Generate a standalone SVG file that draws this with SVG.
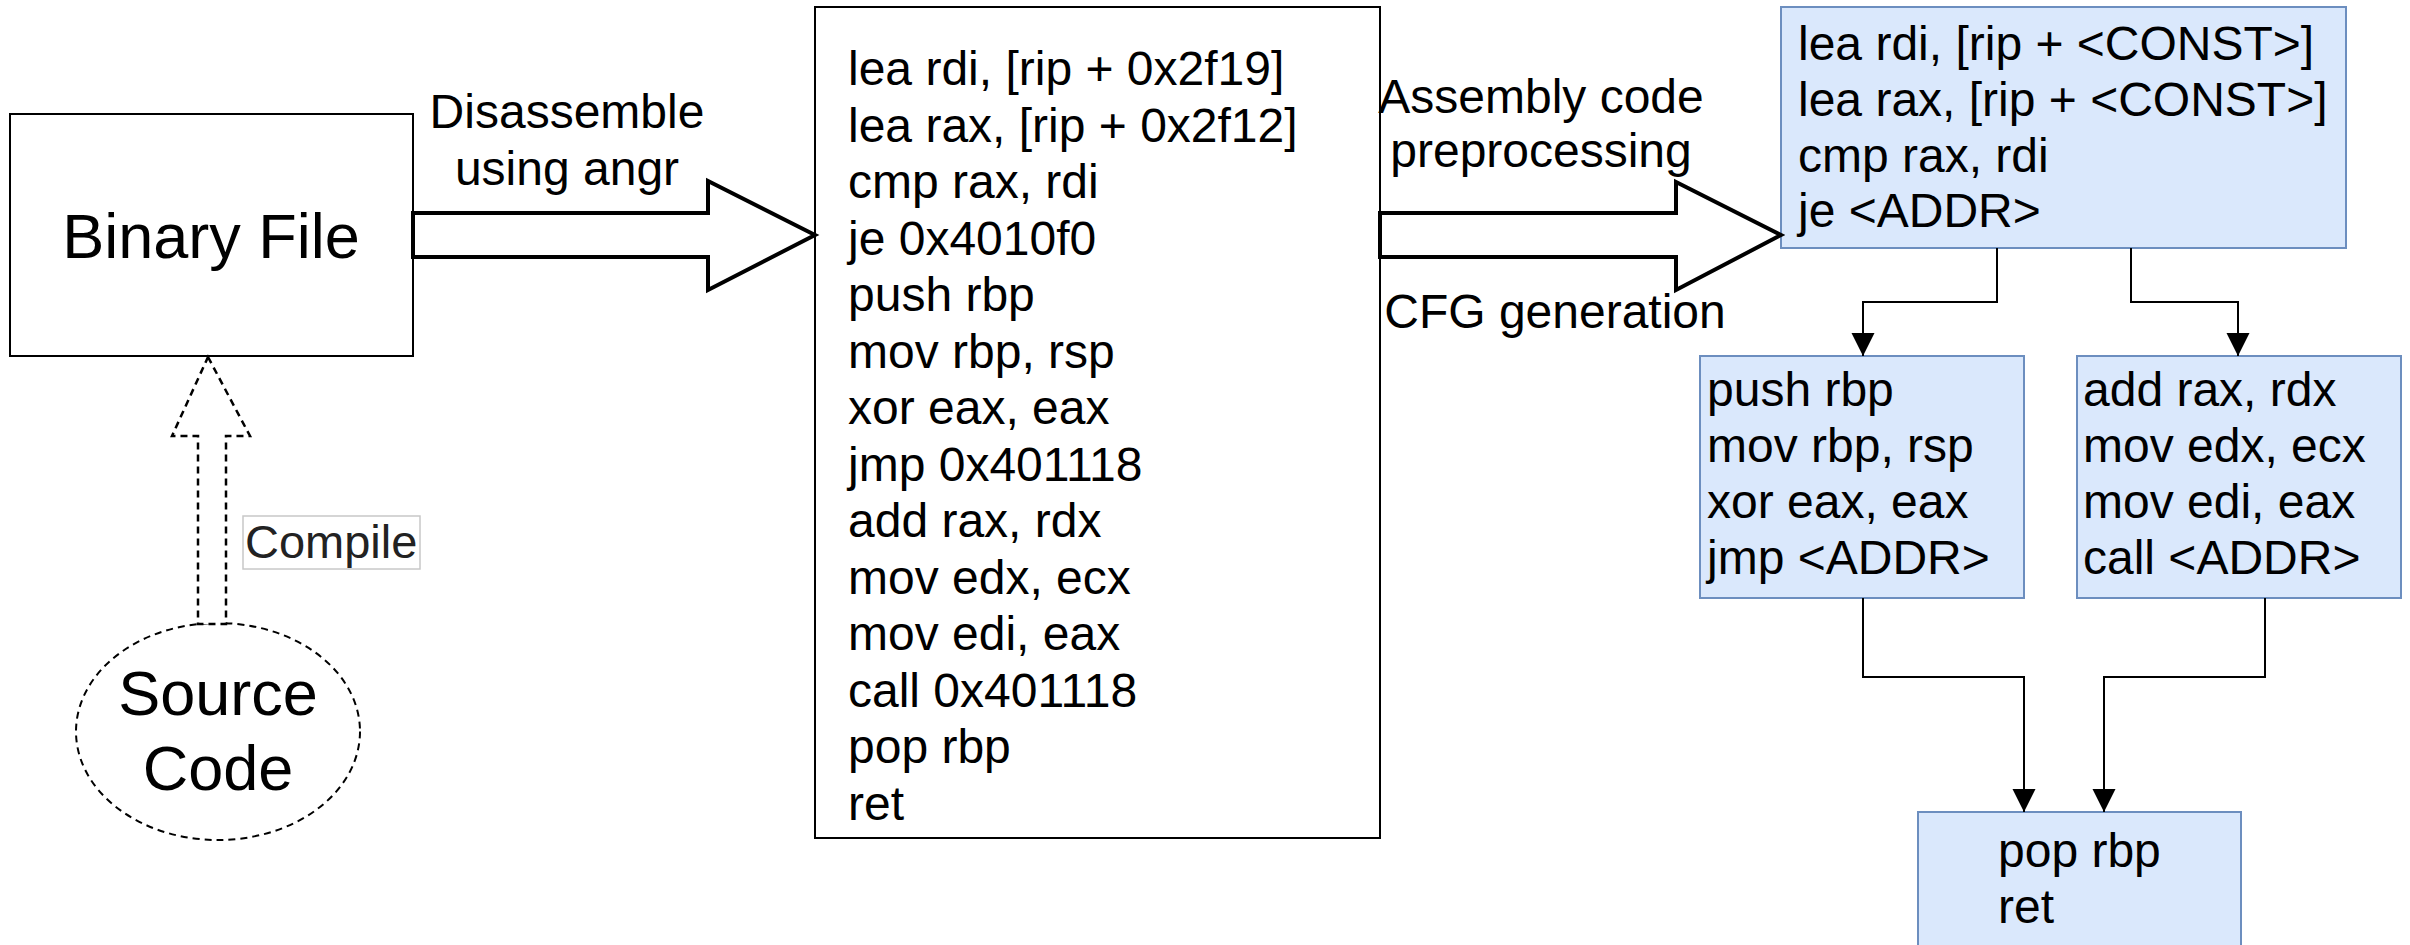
<svg xmlns="http://www.w3.org/2000/svg" width="2410" height="945" viewBox="0 0 2410 945">
  <style>
    text { font-family: "Liberation Sans", Arial, Helvetica, sans-serif; fill: #000; }
    .big { font-size: 63px; text-anchor: middle; }
    .lbl { font-size: 48px; text-anchor: middle; }
    .code { font-size: 48px; }
    .box { fill: #fff; stroke: #000; stroke-width: 2; }
    .blk { fill: #dae8fc; stroke: #6c8ebf; stroke-width: 2; }
    .fat { fill: #fff; stroke: #000; stroke-width: 4; stroke-linejoin: miter; }
    .dash { fill: #fff; stroke: #000; stroke-width: 2.5; stroke-dasharray: 7 5; }
    .edge { fill: none; stroke: #000; stroke-width: 2; marker-end: url(#tri); }
  </style>
  <defs>
    <marker id="tri" markerUnits="userSpaceOnUse" markerWidth="24" markerHeight="24" refX="23" refY="11.5" orient="auto">
      <path d="M0,0 L23,11.5 L0,23 Z" fill="#000"/>
    </marker>
  </defs>
  <rect width="2410" height="945" fill="#fff"/>

  <!-- Binary file -->
  <g id="binary-file">
    <rect class="box" x="10" y="114" width="403" height="242"/>
    <text class="big" x="211" y="258">Binary File</text>
  </g>

  <!-- Source code -->
  <g id="source-code">
    <ellipse cx="218" cy="731.5" rx="142" ry="108.5" fill="#fff" stroke="#000" stroke-width="2" stroke-dasharray="7 5"/>
    <text class="big" x="218" y="715">Source</text>
    <text class="big" x="218" y="790">Code</text>
  </g>

  <!-- Disassembly listing -->
  <g id="asm-listing">
    <rect class="box" x="815" y="7" width="565" height="831"/>
    <text class="code">
      <tspan x="848" y="85">lea rdi, [rip + 0x2f19]</tspan>
      <tspan x="848" y="141.5">lea rax, [rip + 0x2f12]</tspan>
      <tspan x="848" y="198">cmp rax, rdi</tspan>
      <tspan x="848" y="254.5">je 0x4010f0</tspan>
      <tspan x="848" y="311">push rbp</tspan>
      <tspan x="848" y="367.5">mov rbp, rsp</tspan>
      <tspan x="848" y="424">xor eax, eax</tspan>
      <tspan x="848" y="480.5">jmp 0x401118</tspan>
      <tspan x="848" y="537">add rax, rdx</tspan>
      <tspan x="848" y="593.5">mov edx, ecx</tspan>
      <tspan x="848" y="650">mov edi, eax</tspan>
      <tspan x="848" y="706.5">call 0x401118</tspan>
      <tspan x="848" y="763">pop rbp</tspan>
      <tspan x="848" y="819.5">ret</tspan>
    </text>
  </g>

  <!-- CFG basic blocks -->
  <g id="bb-entry">
    <rect class="blk" x="1781" y="7" width="565" height="241"/>
    <text class="code">
      <tspan x="1798" y="60">lea rdi, [rip + &lt;CONST&gt;]</tspan>
      <tspan x="1798" y="116">lea rax, [rip + &lt;CONST&gt;]</tspan>
      <tspan x="1798" y="171.5">cmp rax, rdi</tspan>
      <tspan x="1798" y="227">je &lt;ADDR&gt;</tspan>
    </text>
  </g>
  <g id="bb-left">
    <rect class="blk" x="1700" y="356" width="324" height="242"/>
    <text class="code">
      <tspan x="1707" y="406">push rbp</tspan>
      <tspan x="1707" y="462">mov rbp, rsp</tspan>
      <tspan x="1707" y="518">xor eax, eax</tspan>
      <tspan x="1707" y="574">jmp &lt;ADDR&gt;</tspan>
    </text>
  </g>
  <g id="bb-right">
    <rect class="blk" x="2077" y="356" width="324" height="242"/>
    <text class="code">
      <tspan x="2083" y="406">add rax, rdx</tspan>
      <tspan x="2083" y="462">mov edx, ecx</tspan>
      <tspan x="2083" y="518">mov edi, eax</tspan>
      <tspan x="2083" y="574">call &lt;ADDR&gt;</tspan>
    </text>
  </g>
  <g id="bb-exit">
    <rect class="blk" x="1918" y="812" width="323" height="150"/>
    <text class="code">
      <tspan x="1998" y="867">pop rbp</tspan>
      <tspan x="1998" y="923">ret</tspan>
    </text>
  </g>

  <!-- Connectors -->
  <g id="connectors">
    <!-- compile -->
    <path class="dash" d="M208,357 L250,436 L226,436 L226,624 L198,624 L198,436 L172,436 Z"/>
    <rect x="243" y="516" width="177" height="53" fill="#fff" stroke="#c8c8c8" stroke-width="1.5"/>
    <text x="245" y="558" style="font-size:47px;fill:#222">Compile</text>

    <!-- disassemble -->
    <path class="fat" d="M413,213 L708,213 L708,181 L815,235 L708,290 L708,257 L413,257 Z"/>
    <text class="lbl" x="567" y="128">Disassemble</text>
    <text class="lbl" x="567" y="185">using angr</text>

    <!-- preprocessing / CFG -->
    <path class="fat" d="M1380,213 L1676,213 L1676,182 L1781,235 L1676,290 L1676,257 L1380,257 Z"/>
    <text class="lbl" x="1541" y="113">Assembly code</text>
    <text class="lbl" x="1541" y="167">preprocessing</text>
    <text class="lbl" x="1555" y="328">CFG generation</text>

    <!-- CFG edges -->
    <path class="edge" d="M1997,248 V302 H1863 V356"/>
    <path class="edge" d="M2131,248 V302 H2238 V356"/>
    <path class="edge" d="M1863,598 V677 H2024 V812"/>
    <path class="edge" d="M2265,598 V677 H2104 V812"/>
  </g>
</svg>
